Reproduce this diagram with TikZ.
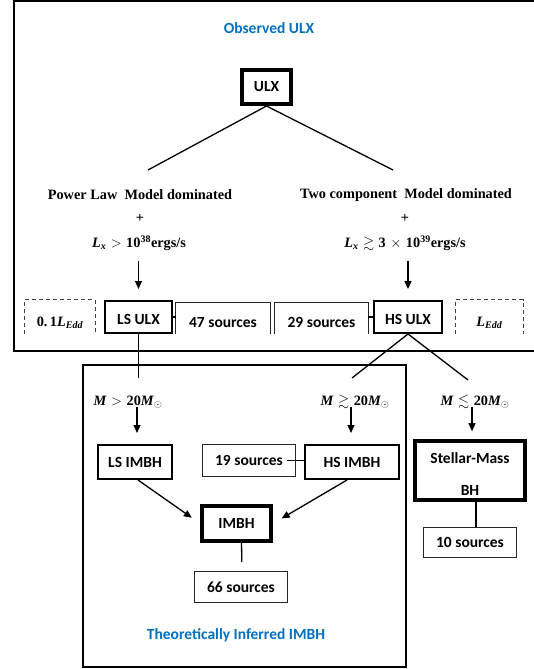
\documentclass[tikz,border=0pt]{standalone}
\usepackage{amsmath,amssymb}
\usepackage{fontspec}
\setmainfont{Liberation Serif}
\newfontfamily\lblfont{Carlito}
\usetikzlibrary{arrows.meta,calc}
\definecolor{titleblue}{RGB}{0,112,192}
\newcommand\vit[1]{\textit{#1}}
\newcommand\Lsub{\vit{L}\textsubscript{\vit{x}}}
\newcommand\Msun{\vit{M}\textsubscript{$\odot$}}
\newcommand\Ledd{\vit{L}\textsubscript{\vit{Edd}}}
\newcommand\rel[1]{\hspace{4.5pt}$#1$\hspace{4.5pt}}
\newcommand\shiftdn[2]{\raisebox{#1}[0pt][0pt]{#2}}
\begin{document}
\begin{tikzpicture}[x=1pt,y=-1pt,
  lab/.style={font=\lblfont\bfseries\fontsize{15.5}{18}\selectfont, inner sep=0pt, align=center},
  ser/.style={font=\bfseries\fontsize{14.3}{17}\selectfont, inner sep=0pt},
  titletext/.style={lab,text=titleblue},
  thinbox/.style={lab, draw=black!85, line width=0.8pt},
  midbox/.style={lab, draw, line width=1.6pt},
  thickbox/.style={lab, draw, line width=3.6pt},
  conn/.style={line width=1.3pt},
  arr/.style={line width=1.3pt, -{Triangle[length=8pt,width=7pt]}},
  dashedge/.style={draw=black!75, line width=0.8pt, dash pattern=on 4pt off 3pt},
  openedge/.style={draw=black!85, line width=0.8pt},
  frame/.style={line width=1.6pt}
]
\useasboundingbox (0,0) rectangle (533,669);
% frames
\draw[frame] (14,1) rectangle (560,351);
\draw[frame, line width=1.3pt] (83,365) rectangle (406,667);

% titles
\node[titletext] (t1) at (269,28) {Observed ULX};
\node[titletext] (t2) at (236,635) {Theoretically Inferred IMBH};

% top
\node[thickbox, minimum width=49.4pt, minimum height=34.4pt] (ulx) at (266.5,87) {ULX};
\coordinate (ulxL) at (148,170);
\coordinate (ulxR) at (393,170);
\draw[conn] (ulxL) -- (ulx.south) -- (ulxR);

\node[ser] (pl) at (140,195) {Power Law\ \ Model dominated};
\node[ser] (tc) at (406,195) {Two component\ \ Model dominated};
\node[ser] (p1) at (140,218) {+};
\node[ser] (p2) at (405,218) {+};
\node[ser] (lx1) at (139,243) {\Lsub\rel{>}10\textsuperscript{38}ergs/s};
\node[ser] (lx2) at (405,243) {\Lsub\rel{\gtrsim}3\rel{\times}10\textsuperscript{39}ergs/s};

% row of boxes
\node[midbox, minimum width=67.4pt, minimum height=32.4pt] (lsulx) at (138.5,317) {\shiftdn{-7pt}{LS ULX}};
\node[midbox, minimum width=68.4pt, minimum height=32.4pt] (hsulx) at (408,317) {\shiftdn{-7pt}{HS ULX}};
\node[lab, minimum width=94pt, minimum height=31pt] (s47) at (223,318.5) {\shiftdn{-8.5pt}{47 sources}};
\node[lab, minimum width=93pt, minimum height=31pt] (s29) at (321.5,318.5) {\shiftdn{-8.5pt}{29 sources}};
\draw[openedge] (s47.south west) |- (s47.north east) -- (s47.south east);
\draw[openedge] (s29.south west) |- (s29.north east) -- (s29.south east);
\node[ser, minimum width=70pt, minimum height=34pt] (d01) at (60,317) {\shiftdn{-9.5pt}{0.\,1\Ledd}};
\node[ser, minimum width=67pt, minimum height=34pt] (dedd) at (489.5,317) {\shiftdn{-9.5pt}{\Ledd}};
\draw[dashedge] (d01.south west) |- (d01.north east) -- (d01.south east);
\draw[dashedge] (dedd.south west) |- (dedd.north east) -- (dedd.south east);
\draw[conn] (lsulx.east) -- (lsulx.east -| s47.west);
\draw[conn] (hsulx.west) -- (hsulx.west -| s29.east);

\coordinate (a1) at (138.5,261);
\coordinate (a2) at (408,261);
\draw[arr, shorten >=11pt] (a1) -- (lsulx.north);
\draw[arr, shorten >=11pt] (a2) -- (hsulx.north);

% lower branches
\coordinate (lsdown) at (138.5,378);
\draw[conn] (lsulx.south) -- (lsdown);
\coordinate (hsdownL) at (352,378);
\coordinate (hsdownR) at (468,380);
\draw[conn] (hsdownL) -- (hsulx.south) -- (hsdownR);

\node[ser] (m1) at (128,402) {\vit{M}\rel{>}20\Msun};
\node[ser] (m2) at (355,402) {\vit{M}\rel{\gtrsim}20\Msun};
\node[ser] (m3) at (475,402) {\vit{M}\rel{\lesssim}20\Msun};

\node[midbox, minimum width=74.4pt, minimum height=34.4pt] (lsimbh) at (135,462) {LS IMBH};
\node[midbox, minimum width=94.4pt, minimum height=34.4pt] (hsimbh) at (352,462) {HS IMBH};
\node[thinbox, minimum width=93pt, minimum height=32pt] (s19) at (249,460.5) {19 sources};
\node[thickbox, minimum width=110.4pt, minimum height=59pt] (smbh) at (470,470.5) {\shiftdn{-8.5pt}{\begin{tabular}{@{}c@{}}Stellar-Mass\\[14pt]BH\end{tabular}}};
\node[thickbox, minimum width=69.4pt, minimum height=35.4pt] (imbh) at (236.5,523.5) {IMBH};
\node[thinbox, minimum width=93pt, minimum height=31pt] (s66) at (241,587) {66 sources};
\node[thinbox, minimum width=93pt, minimum height=30pt] (s10) at (470,542.5) {10 sources};

\coordinate (m1a) at (137,407);
\coordinate (m2a) at (351,407);
\coordinate (m3a) at (472,407);
\draw[arr, shorten >=11pt] (m1a) -- (m1a |- lsimbh.north);
\draw[arr, shorten >=11pt] (m2a) -- (m2a |- hsimbh.north);
\draw[arr, shorten >=8pt] (m3a) -- (m3a |- smbh.north);

\draw[conn] ([xshift=-9pt]s19.east) -- (s19.east -| hsimbh.west);
\draw[arr, shorten >=10pt] ([xshift=3pt]lsimbh.south) -- (imbh.west);
\draw[arr, shorten >=10pt] ([xshift=-5pt]hsimbh.south) -- (imbh.east);
\draw[conn, shorten >=9pt] ([xshift=5pt]imbh.south) -- ([xshift=1pt]s66.north);
\draw[conn] ([xshift=6pt]smbh.south) -- ([xshift=6pt]s10.north);
\end{tikzpicture}
\end{document}
